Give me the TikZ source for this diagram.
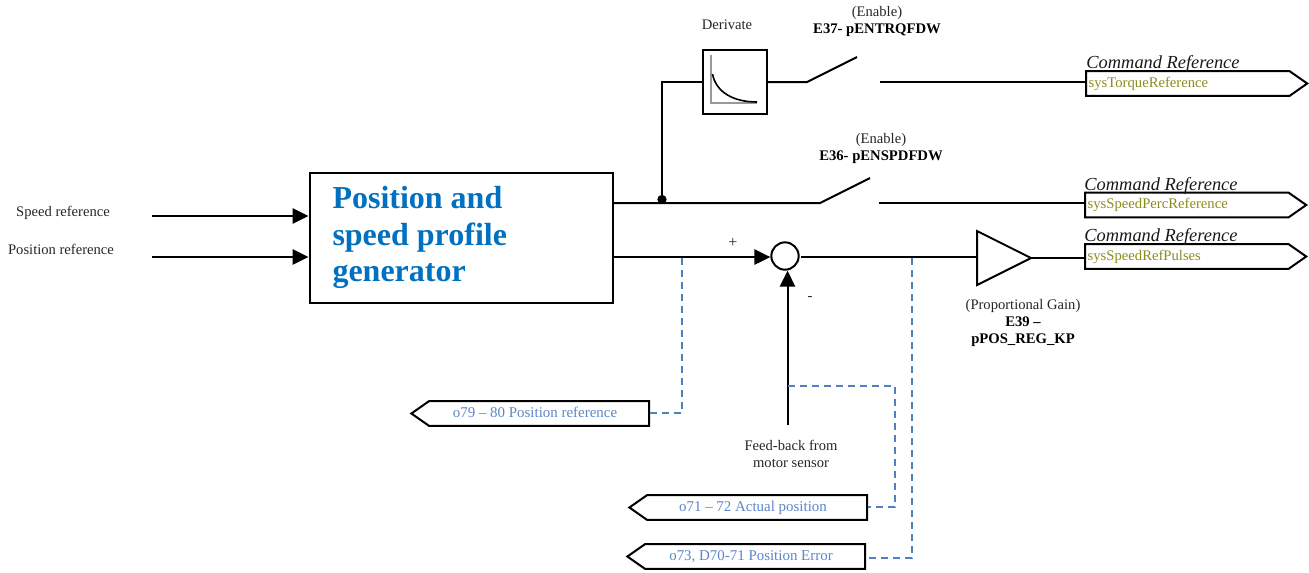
\documentclass[tikz,border=0pt]{standalone}
\usepackage{fontspec}
\setmainfont{Liberation Serif}
\usetikzlibrary{arrows.meta,shapes.symbols}
\definecolor{titleblue}{HTML}{0070C0}
\definecolor{dashblue}{HTML}{4F81BD}
\definecolor{tagblue}{HTML}{5B86C8}
\definecolor{tagolive}{HTML}{8C8C1E}
\newcommand{\tagtext}[1]{\hspace*{-6pt}\raisebox{1.3pt}{#1}}
\tikzset{
  wire/.style={line width=1.5pt,black},
  arrowwire/.style={wire,-{Triangle[length=12pt,width=11.5pt]}},
  tap/.style={line width=1.4pt,dashblue,dash pattern=on 5.5pt off 3.5pt},
  lbl/.style={font=\fontsize{10.95pt}{12.75pt}\selectfont,align=flush center,inner sep=0pt,text=black!85},
  boldlbl/.style={lbl,font=\fontsize{11pt}{12.75pt}\selectfont\bfseries,text=black},
  cmdref/.style={font=\fontsize{13.8pt}{16pt}\selectfont\itshape,inner sep=0pt,text=black!90},
  outtag/.style={signal,signal to=east,draw=black,line width=1.5pt,fill=white,minimum height=18.5pt,
    signal pointer angle=70,inner xsep=2pt,inner ysep=0pt,text width=148.7pt,align=flush left,anchor=west,
    font=\fontsize{11pt}{13pt}\selectfont,text=tagolive},
  intag/.style={signal,signal to=west,draw=black,line width=1.5pt,fill=white,minimum height=18.5pt,
    signal pointer angle=70,inner xsep=2pt,inner ysep=0pt,align=flush center,anchor=east,
    font=\fontsize{11.2pt}{13pt}\selectfont,text=tagblue},
}
\begin{document}
\begin{tikzpicture}[x=0.75pt,y=-0.75pt]
\useasboundingbox (0,0) rectangle (1309,572);

% inputs and main block
\node[lbl] (speedlbl) at (63,213) {Speed reference};
\node[lbl] (poslbl) at (61,249) {Position reference};
\node[draw=black,line width=1.5pt,minimum width=227.5pt,minimum height=97.5pt,inner xsep=17.25pt,inner ysep=0pt,
  text width=193pt,align=flush left,anchor=north west,text=titleblue,
  font=\fontsize{24pt}{27.2pt}\selectfont\bfseries] (main) at (308.5,171.5)
  {Position and\\speed profile\\generator};
\coordinate (sp) at (152,216);
\coordinate (ps) at (152,257);
\draw[arrowwire] (sp) -- (sp -| main.west);
\draw[arrowwire] (ps) -- (ps -| main.west);

% derivate
\node[draw=black,line width=1.5pt,minimum size=47.5pt,inner sep=0pt] (der) at (735,82) {};
\node[lbl] (derlbl) at (727,25) {Derivate};
\draw[gray!80,line width=1.1pt] (711,55) -- (711,103) -- (757,103);
\draw[black,line width=1.2pt] (712.5,74) .. controls (716,92) and (733,102) .. (757,102);

% switches
\coordinate (sw1a) at (807,82);
\coordinate (sw1b) at (857,57);
\coordinate (sw1c) at (880,82);
\coordinate (sw2a) at (820,203);
\coordinate (sw2b) at (870,178);
\coordinate (sw2c) at (879,203);
\node[lbl] (en1) at (877,13) {(Enable)};
\node[boldlbl] (e37) at (877,30.5) {E37- pENTRQFDW};
\node[lbl] (en2) at (881,140) {(Enable)};
\node[boldlbl] (e36) at (881,157.5) {E36- pENSPDFDW};

% output tags
\node[outtag] (tq) at (1085,83.5) {sysTorqueReference};
\node[outtag] (spp) at (1084,205) {sysSpeedPercReference};
\node[outtag] (srp) at (1084,256.5) {\raisebox{0.6pt}{sysSpeedRefPulses}};
\node[cmdref] (cr1) at (1163,63.5) {Command Reference};
\node[cmdref] (cr2) at (1161,185.5) {Command Reference};
\node[cmdref] (cr3) at (1161,236.5) {Command Reference};

% top wires
\coordinate (out2) at (613,203);
\node[circle,fill=black,minimum size=7pt,inner sep=0pt] (dot) at (662,199.5) {};
\draw[wire] (out2) -- (sw2a) -- (sw2b);
\draw[wire] (sw2c) -- (sw2c -| spp.west);
\draw[wire] (dot.center) -- (dot.center |- der.west) -- (der.west);
\draw[wire] (der.east) -- (sw1a) -- (sw1b);
\draw[wire] (sw1c) -- (sw1c -| tq.west);

% summing junction
\node[circle,draw=black,line width=1.5pt,minimum size=20.5pt,inner sep=0pt] (sum) at (785,256) {};
\coordinate (out3) at (613,257);
\draw[arrowwire] (out3) -- (sum.west |- out3);
\node[lbl,font=\fontsize{12pt}{13pt}\selectfont] (plus) at (733,243) {+};
\node[lbl] (minus) at (810,298) {-};
\coordinate (fb) at (787.5,425);
\draw[arrowwire] (fb) -- (fb |- sum.south);
\node[lbl] (fblbl) at (791,454) {Feed-back from\\motor sensor};

% gain
\coordinate (gtop) at (977,231);
\coordinate (gbot) at (977,285);
\coordinate (gtip) at (1031,258);
\coordinate (gin) at (977,257);
\draw[wire,line join=miter] (gtop) -- (gtip) -- (gbot) -- cycle;
\draw[wire] (sum.east |- gin) ++(1,0) -- (gin);
\draw[wire] (gtip) -- (gtip -| srp.west);
\node[lbl] (pg) at (1023,306) {(Proportional Gain)};
\node[boldlbl] (e39) at (1023,331.5) {E39 –\\pPOS\_REG\_KP};

% monitor tags
\node[intag,text width=161pt] (t79) at (650,413.5) {\tagtext{o79 – 80 Position reference}};
\node[intag,text width=161pt] (t71) at (868,507.5) {\tagtext{o71 – 72 Actual position}};
\node[intag,text width=161pt] (t73) at (866,556.5) {\tagtext{o73, D70-71 Position Error}};

% dashed taps
\coordinate (tp1) at (682,258);
\coordinate (tp2) at (788,386);
\coordinate (tp3) at (912,258);
\coordinate (c1) at (682,413);
\coordinate (c2) at (895,386);
\coordinate (c3) at (895,507);
\coordinate (c4) at (912,558);
\draw[tap] (tp1) -- (c1) -- (t79.east |- c1);
\draw[tap] (tp2) -- (c2) -- (c3) -- (t71.east |- c3);
\draw[tap] (tp3) -- (c4) -- (t73.east |- c4);
\end{tikzpicture}
\end{document}
